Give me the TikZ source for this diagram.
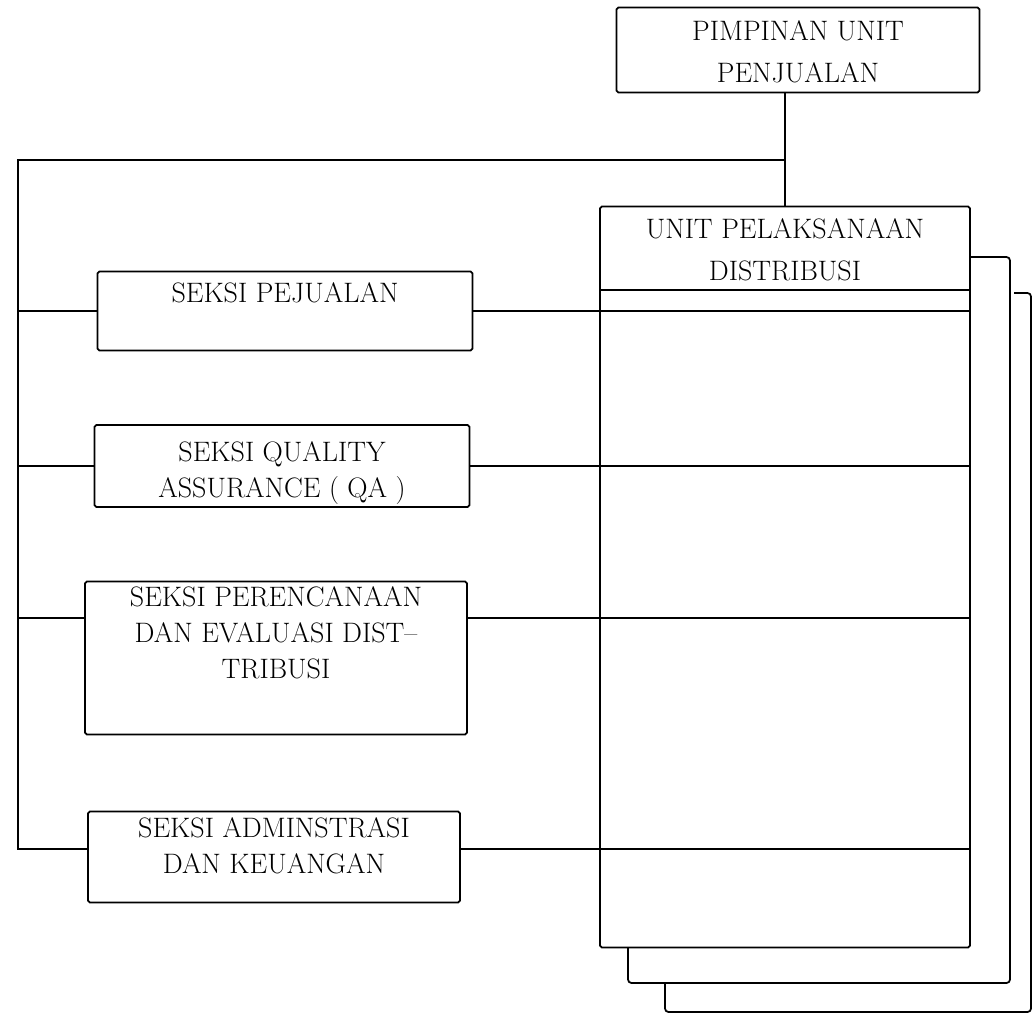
\documentclass[tikz,border=0pt]{standalone}
\usepackage{tikz}

\begin{document}
\begin{tikzpicture}[
    x=0.02cm, y=-0.02cm,
    line width=1pt,
    font=\fontsize{16}{20.5}\selectfont,
    box/.style={rectangle,draw,rounded corners=1pt},
    boxtext/.style={anchor=north,align=center,inner sep=0pt,yshift=-#1}
]
\useasboundingbox (0,0) rectangle (1034,1015);
\node[box,minimum width=7.26cm,minimum height=1.7cm,
    label={[boxtext=0.26cm]north:{PIMPINAN UNIT\\[3.5pt]PENJUALAN}}] (pimpinan) at (798,50) {};
\node[box,minimum width=7.4cm,minimum height=14.82cm,
    label={[boxtext=0.24cm]north:{UNIT PELAKSANAAN\\[3.5pt]DISTRIBUSI}}] (unit) at (785,577) {};
\node[box,minimum width=7.5cm,minimum height=1.58cm,
    label={[boxtext=0.22cm]north:{SEKSI PEJUALAN}}] (pejualan) at (285,311) {};
\node[box,minimum width=7.5cm,minimum height=1.64cm,
    label={[boxtext=0.34cm]north:{SEKSI QUALITY\\ASSURANCE ( QA )}}] (qa) at (282,466) {};
\node[box,minimum width=7.64cm,minimum height=3.06cm,
    label={[boxtext=0.1cm]north:{SEKSI PERENCANAAN\\DAN EVALUASI DIST--\\TRIBUSI}}] (perencanaan) at (276,658) {};
\node[box,minimum width=7.44cm,minimum height=1.82cm,
    label={[boxtext=0.12cm]north:{SEKSI ADMINSTRASI\\DAN KEUANGAN}}] (admin) at (274,857) {};
\coordinate (bus) at (18,160);
\coordinate (back1) at (1010,257);
\coordinate (back2) at (1031,293);

\draw (unit.north |- pimpinan.south) -- (unit.north);
\draw (unit.north |- bus) -- (bus) |- ([yshift=0.16cm]admin.west);
\draw ([yshift=0.16cm]admin.east) -- ([yshift=0.16cm]admin.east -| unit.east);
\draw (bus |- pejualan.west) -- (pejualan.west);
\draw (pejualan.east) -- (pejualan.east -| unit.east);
\draw (bus |- qa.west) -- (qa.west);
\draw (qa.east) -- (qa.east -| unit.east);
\draw (bus |- 0,618) -- (perencanaan.west |- 0,618);
\draw (perencanaan.east |- 0,618) -- (unit.east |- 0,618);
\draw (unit.west |- 0,290) -- (unit.east |- 0,290);
\draw[rounded corners=2pt] (unit.east |- back1) -- (back1) |- (628,983) -- (628,948);
\draw[rounded corners=2pt] (1014,293) -- (back2) |- (665,1012) -- (665,983);
\end{tikzpicture}
\end{document}
